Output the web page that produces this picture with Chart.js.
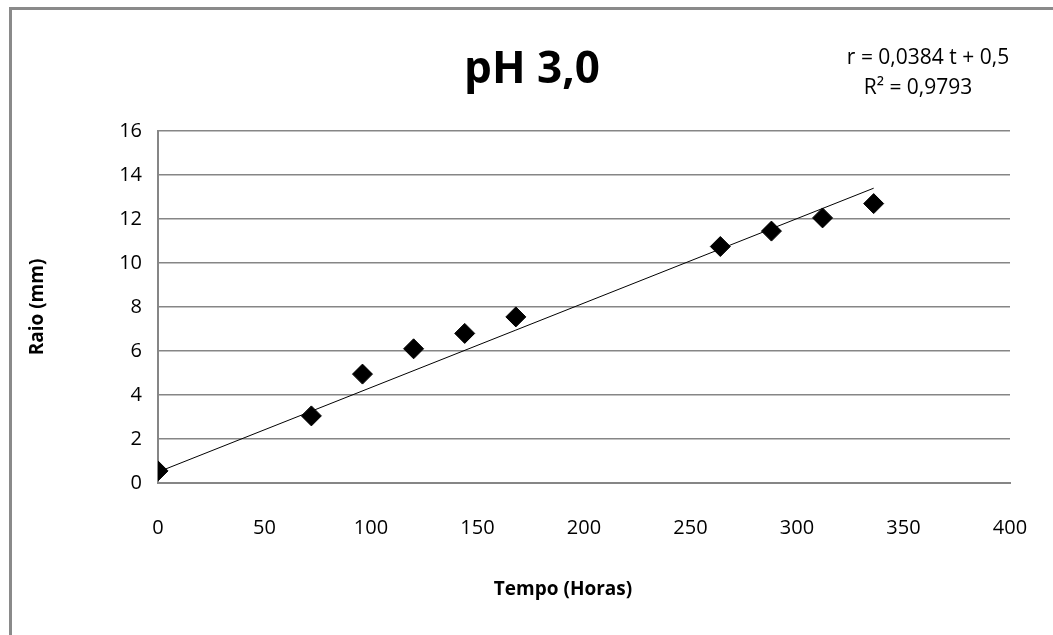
<!DOCTYPE html>
<html>
<head>
<meta charset="utf-8">
<script src="https://cdn.jsdelivr.net/npm/chart.js@4/dist/chart.umd.min.js"></script>
<style>
  html, body { margin: 0; padding: 0; background: #fff; }
  #wrap { width: 1053px; height: 635px; position: relative; }
</style>
</head>
<body>
<div id="wrap"><canvas id="phChart" width="1053" height="635"></canvas></div>
<script>
var horas = [0, 72, 96, 120, 144, 168, 264, 288, 312, 336];
var raio = [0.55, 3.05, 4.95, 6.1, 6.8, 7.55, 10.75, 11.45, 12.05, 12.7];
var trendHoras = [0, 336];
var trendRaio = [0.5, 13.4];
var chartTitle = 'pH 3,0';
var xTitle = 'Tempo (Horas)';
var yTitle = 'Raio (mm)';
var equationLines = ['r = 0,0384 t + 0,5', 'R² = 0,9793'];

var fontFamily = '"Open Sans", "Noto Sans", sans-serif';

var extraText = {
    id: 'extraText',
    beforeDraw: function(chart) {
        var c = chart.ctx;
        c.save();
        c.strokeStyle = '#8a8a8a';
        c.lineWidth = 3;
        c.strokeRect(10.5, 8.5, 1200, 800);
        c.restore();
    },
    afterDraw: function(chart) {
        var c = chart.ctx;
        c.save();
        c.fillStyle = '#000';
        c.textAlign = 'center';
        c.textBaseline = 'middle';
        c.font = 'bold 44px ' + fontFamily;
        c.fillText(chartTitle, 532, 70);
        c.font = 'bold 19px ' + fontFamily;
        c.fillText(xTitle, 563, 590);
        c.font = '21px ' + fontFamily;
        c.fillText(equationLines[0], 928, 58);
        c.fillText(equationLines[1], 918, 88);
        c.restore();
    }
};

document.addEventListener('DOMContentLoaded', function() {
    var ctx = document.getElementById('phChart').getContext('2d');
    new Chart(ctx, {
        type: 'scatter',
        data: {
            datasets: [{
                label: 'Raio',
                data: horas.map(function(h, i) { return { x: h, y: raio[i] }; }),
                pointStyle: 'rectRot',
                pointRadius: 10,
                pointHoverRadius: 10,
                backgroundColor: '#000',
                borderColor: '#000',
                borderWidth: 1,
                order: 2
            }, {
                label: 'Tendência',
                type: 'line',
                data: trendHoras.map(function(h, i) { return { x: h, y: trendRaio[i] }; }),
                borderColor: '#000',
                borderWidth: 1,
                pointRadius: 0,
                fill: false,
                order: 1
            }]
        },
        options: {
            responsive: false,
            animation: false,
            layout: { padding: { left: 0, right: 43, top: 131, bottom: 0 } },
            plugins: {
                legend: { display: false },
                tooltip: { enabled: false },
                title: { display: false }
            },
            scales: {
                x: {
                    type: 'linear',
                    min: 0,
                    max: 400,
                    ticks: {
                        stepSize: 50,
                        color: '#000',
                        padding: 33,
                        font: { family: fontFamily, size: 20 }
                    },
                    grid: { display: false, drawTicks: false },
                    border: { display: true, color: '#868686', width: 2 },
                    afterFit: function(scale) {
                        scale.height = 152;
                        scale.paddingLeft = 0;
                        scale.paddingRight = 0;
                    }
                },
                y: {
                    min: 0,
                    max: 16,
                    ticks: {
                        stepSize: 2,
                        color: '#000',
                        padding: 16,
                        font: { family: fontFamily, size: 20 }
                    },
                    grid: { color: '#868686', lineWidth: 1.5, drawTicks: false },
                    border: { display: true, color: '#868686', width: 2 },
                    title: {
                        display: true,
                        text: yTitle,
                        color: '#000',
                        font: { family: fontFamily, size: 19, weight: 'bold' },
                        padding: { top: 26, bottom: 0 }
                    },
                    afterFit: function(scale) {
                        scale.width = 158;
                        scale.paddingTop = 0;
                        scale.paddingBottom = 0;
                    }
                }
            }
        },
        plugins: [extraText]
    });
});
</script>
</body>
</html>
